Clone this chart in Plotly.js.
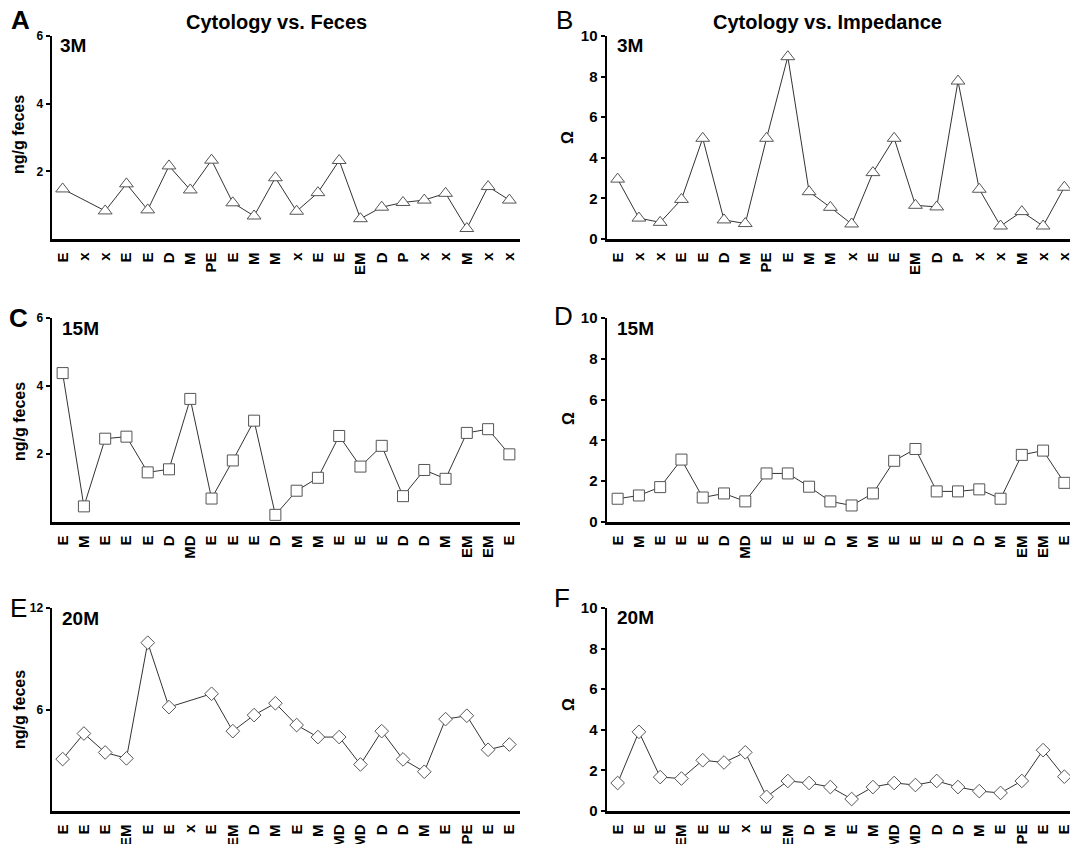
<!DOCTYPE html>
<html>
<head>
<meta charset="utf-8">
<script src="https://cdn.plot.ly/plotly-3.0.1.min.js"></script>
<style>html,body{margin:0;padding:0;background:#fff;}#chart{width:1070px;height:844px;}</style>
</head>
<body>
<div id="chart"></div>
<script>
// ---- Data ----
const catsA = ['E','x','x','E','E','D','M','PE','E','M','M','x','E','E','EM','D','P','x','x','M','x','x'];
const fecesA3M = [1.48,null,0.83,1.63,0.86,2.16,1.45,2.33,1.07,0.68,1.81,0.82,1.37,2.32,0.60,0.94,1.08,1.15,1.35,0.31,1.55,1.15];
const impedB3M = [2.95,1.03,0.82,1.95,4.96,0.94,0.76,4.96,8.98,2.33,1.56,0.74,3.27,4.96,1.66,1.58,7.78,2.45,0.64,1.35,0.64,2.55];

const catsC = ['E','M','E','E','E','D','MD','E','E','E','D','M','M','E','E','E','D','D','M','EM','EM','E'];
const fecesC15M = [4.38,0.46,2.45,2.51,1.46,1.55,3.62,0.69,1.81,2.98,0.21,0.92,1.30,2.53,1.63,2.24,0.76,1.53,1.27,2.62,2.73,1.99];
const impedD15M = [1.14,1.30,1.71,3.06,1.20,1.40,1.01,2.38,2.38,1.73,1.01,0.81,1.40,3.00,3.58,1.50,1.50,1.60,1.14,3.29,3.50,1.92];

const catsE = ['E','E','E','EM','E','E','x','E','EM','D','M','E','M','MD','MD','D','D','M','E','PE','E','E'];
const fecesE20M = [3.07,4.58,3.46,3.11,9.95,6.14,null,6.93,4.72,5.67,6.37,5.08,4.37,4.37,2.75,4.72,3.05,2.32,5.43,5.63,3.62,3.93];
const impedF20M = [1.38,3.90,1.67,1.60,2.50,2.39,2.89,0.70,1.48,1.38,1.18,0.59,1.18,1.38,1.28,1.48,1.18,0.98,0.89,1.48,3.00,1.69];

const fecesTicks3M = [2,4,6];
const fecesTicks15M = [2,4,6];
const fecesTicks20M = [6,12];
const impedTicks = [0,2,4,6,8,10];

// ---- Layout helpers ----
const W = 1070, H = 844;
const FONT = 'Liberation Sans, Arial, Helvetica, sans-serif';
const px = x => x / W;
const py = y => 1 - y / H;

const leftDom = [px(52), px(520)];
const rightDom = [px(607), 1];
const spacing = (520 - 52) / 22;
const leftRange = [-0.5, 21.5];
const rightRange = [-0.5, -0.5 + (W - 607) / spacing];

const rows = [
  {top: 36, bottom: 239},
  {top: 318, bottom: 522},
  {top: 608, bottom: 811}
];

const panels = [
  {cats: catsA, vals: fecesA3M, sym: 'triangle-up', size: 12, ymax: 6, ticks: fecesTicks3M, col: 0, row: 0, tickSize: 12},
  {cats: catsA, vals: impedB3M, sym: 'triangle-up', size: 12, ymax: 10, ticks: impedTicks, col: 1, row: 0, tickSize: 15},
  {cats: catsC, vals: fecesC15M, sym: 'square', size: 11, ymax: 6, ticks: fecesTicks15M, col: 0, row: 1, tickSize: 12},
  {cats: catsC, vals: impedD15M, sym: 'square', size: 11, ymax: 10, ticks: impedTicks, col: 1, row: 1, tickSize: 15},
  {cats: catsE, vals: fecesE20M, sym: 'diamond', size: 10.5, ymax: 12, ticks: fecesTicks20M, col: 0, row: 2, tickSize: 12},
  {cats: catsE, vals: impedF20M, sym: 'diamond', size: 10.5, ymax: 10, ticks: impedTicks, col: 1, row: 2, tickSize: 15}
];

const data = [];
const layout = {
  width: W, height: H,
  margin: {l: 0, r: 0, t: 0, b: 0},
  paper_bgcolor: '#fff', plot_bgcolor: '#fff',
  showlegend: false,
  font: {family: FONT, color: '#000'},
  annotations: []
};

panels.forEach((p, i) => {
  const n = i + 1;
  const xa = n === 1 ? 'xaxis' : 'xaxis' + n;
  const ya = n === 1 ? 'yaxis' : 'yaxis' + n;
  data.push({
    type: 'scatter', mode: 'lines+markers',
    x: p.vals.map((v, k) => k), y: p.vals,
    xaxis: 'x' + (n === 1 ? '' : n), yaxis: 'y' + (n === 1 ? '' : n),
    connectgaps: true,
    cliponaxis: false,
    line: {color: '#333', width: 1},
    marker: {symbol: p.sym, size: p.size, color: '#fff', line: {color: '#555', width: 1}}
  });
  const r = rows[p.row];
  layout[xa] = {
    domain: p.col === 0 ? leftDom : rightDom,
    range: p.col === 0 ? leftRange : rightRange,
    anchor: 'y' + (n === 1 ? '' : n),
    showline: true, linecolor: '#000', linewidth: 2.5,
    showgrid: false, zeroline: false, ticks: '',
    tickmode: 'array', tickvals: p.cats.map((c, k) => k), ticktext: p.cats,
    tickangle: -90,
    ticklabelstandoff: 5,
    ticklabeloverflow: 'allow',
    tickfont: {family: FONT, size: 15, color: '#000', weight: 'bold'},
    automargin: false, fixedrange: true
  };
  layout[ya] = {
    domain: [py(r.bottom), py(r.top)],
    range: [0, p.ymax],
    anchor: 'x' + (n === 1 ? '' : n),
    showline: true, linecolor: '#000', linewidth: 2.5,
    showgrid: false, zeroline: false,
    ticks: 'outside', ticklen: 4, tickwidth: 2, tickcolor: '#000',
    tickmode: 'array', tickvals: p.ticks, ticktext: p.ticks.map(String),
    tickfont: {family: FONT, size: p.tickSize, color: '#000', weight: 'bold'},
    automargin: false, fixedrange: true
  };
});

function ann(text, x, y, opts) {
  layout.annotations.push(Object.assign({
    text: text, x: px(x), y: py(y), xref: 'paper', yref: 'paper',
    showarrow: false, xanchor: 'center', yanchor: 'middle',
    font: {family: FONT, size: 14, color: '#000', weight: 'bold'}
  }, opts || {}));
}

// column titles
ann('Cytology vs. Feces', 276, 22, {font: {family: FONT, size: 20, color: '#000', weight: 'bold'}});
ann('Cytology vs. Impedance', 827, 22, {font: {family: FONT, size: 20, color: '#000', weight: 'bold'}});

// panel letters
const letterFont = {family: FONT, size: 26, color: '#000'};
ann('A', 20, 20, {font: Object.assign({}, letterFont, {weight: 'bold'})});
ann('B', 564, 20, {font: letterFont});
ann('C', 18, 318, {font: Object.assign({}, letterFont, {weight: 'bold'})});
ann('D', 563, 316, {font: letterFont});
ann('E', 18, 608, {font: letterFont});
ann('F', 562, 598, {font: letterFont});

// time-point labels
const tpFont = {family: FONT, size: 19, color: '#000', weight: 'bold'};
ann('3M', 58, 45, {xanchor: 'left', font: tpFont});
ann('3M', 615, 46, {xanchor: 'left', font: tpFont});
ann('15M', 60, 328, {xanchor: 'left', font: tpFont});
ann('15M', 615, 328, {xanchor: 'left', font: tpFont});
ann('20M', 60, 618, {xanchor: 'left', font: tpFont});
ann('20M', 615, 617, {xanchor: 'left', font: tpFont});

// y-axis titles
const ytFont = {family: FONT, size: 16, color: '#000', weight: 'bold'};
ann('ng/g feces', 19, 135, {textangle: -90, font: ytFont});
ann('ng/g feces', 19, 422, {textangle: -90, font: ytFont});
ann('ng/g feces', 19, 710, {textangle: -90, font: ytFont});
ann('Ω', 568, 138, {textangle: -90, font: ytFont});
ann('Ω', 568, 419, {textangle: -90, font: ytFont});
ann('Ω', 568, 705, {textangle: -90, font: ytFont});

Plotly.newPlot('chart', data, layout, {staticPlot: true, displayModeBar: false});
</script>
</body>
</html>
